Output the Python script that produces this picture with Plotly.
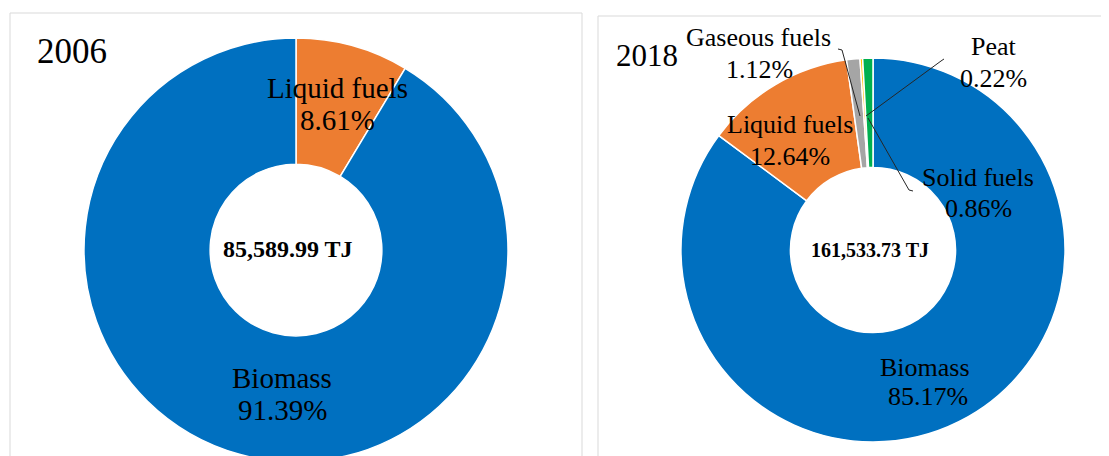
import plotly.graph_objects as go

# values
labels_2006 = ["Liquid fuels", "Biomass"]
shares_2006 = [8.61, 91.39]
total_2006 = "85,589.99 TJ"

labels_2018 = ["Biomass", "Liquid fuels", "Gaseous fuels", "Peat", "Solid fuels"]
shares_2018 = [85.17, 12.64, 1.12, 0.22, 0.86]
total_2018 = "161,533.73 TJ"

COLORS = {
    "Biomass": "#0070C0",
    "Liquid fuels": "#ED7D31",
    "Gaseous fuels": "#A5A5A5",
    "Peat": "#FFC000",
    "Solid fuels": "#00B050",
}

W, H = 1109, 456
OFF = 8  # the page body adds an 8px margin around the figure
FONT = "Liberation Serif, Times New Roman, serif"


def px(x, y):
    """screen pixel position -> paper fraction"""
    return (x - OFF) / W, 1 - (y - OFF) / H


def dom(cx, cy, r):
    x0, y1 = px(cx - r, cy - r)
    x1, y0 = px(cx + r, cy + r)
    return dict(x=[max(x0, 0), min(x1, 1)], y=[max(y0, 0), min(y1, 1)])


def donut(labels, values, domain, hole):
    return go.Pie(
        labels=labels, values=values, sort=False, direction="clockwise",
        rotation=0, hole=hole, domain=domain, textinfo="none",
        hoverinfo="label+percent", showlegend=False,
        marker=dict(colors=[COLORS[l] for l in labels],
                    line=dict(color="white", width=1.5)),
    )


def text(x, y, s, size, anchor="center", bold=False):
    ax, ay = px(x, y)
    return dict(
        x=ax, y=ay, xref="paper", yref="paper", showarrow=False,
        text=f"<b>{s}</b>" if bold else s, xanchor=anchor, yanchor="middle",
        font=dict(family=FONT, size=size, color="black"),
    )


def path(points):
    pts = [px(x, y) for x, y in points]
    d = "M " + " L ".join(f"{a:.5f},{b:.5f}" for a, b in pts)
    return dict(type="path", xref="paper", yref="paper", path=d,
                line=dict(color="#262626", width=1))


fig = go.Figure()
fig.add_trace(donut(labels_2006, shares_2006, dom(296, 250, 212), 0.405))
fig.add_trace(donut(labels_2018, shares_2018, dom(873, 250, 192), 0.43))

p06 = dict(zip(labels_2006, shares_2006))
p18 = dict(zip(labels_2018, shares_2018))

annotations = [
    text(35, 52, "2006", 35, anchor="left"),
    text(337, 88, "Liquid fuels", 29),
    text(337, 120, f"{p06['Liquid fuels']:.2f}%", 29),
    text(282, 378, "Biomass", 29),
    text(282, 410, f"{p06['Biomass']:.2f}%", 29),
    text(288, 249, total_2006, 24, bold=True),

    text(614, 55, "2018", 31, anchor="left"),
    text(758, 37, "Gaseous fuels", 26),
    text(759, 69, f"{p18['Gaseous fuels']:.2f}%", 26),
    text(994, 46, "Peat", 26),
    text(993, 78, f"{p18['Peat']:.2f}%", 26),
    text(790, 125, "Liquid fuels", 26),
    text(790, 156, f"{p18['Liquid fuels']:.2f}%", 26),
    text(978, 177, "Solid fuels", 26),
    text(978, 208, f"{p18['Solid fuels']:.2f}%", 26),
    text(925, 367, "Biomass", 26),
    text(928, 396, f"{p18['Biomass']:.2f}%", 26),
    text(870, 250, total_2018, 20, bold=True),
]

f10, _ = px(10, 0)
f582, _ = px(582, 0)
f598, _ = px(598, 0)
f1104, _ = px(1104, 0)
_, t13 = px(0, 13)
_, t16 = px(0, 16)

shapes = [
    # panel frames (cut off at the bottom)
    dict(type="rect", xref="paper", yref="paper",
         x0=f10, x1=f582, y0=-0.2, y1=t13,
         line=dict(color="#D9D9D9", width=1), layer="below"),
    dict(type="rect", xref="paper", yref="paper",
         x0=f598, x1=f1104, y0=-0.2, y1=t16,
         line=dict(color="#D9D9D9", width=1), layer="below"),
    # leader lines
    path([(838, 49), (842, 50), (860, 116)]),
    path([(944, 59), (941, 61), (866, 116)]),
    path([(868, 118), (909, 190), (913, 191)]),
]

fig.update_layout(
    width=W, height=H, autosize=False,
    margin=dict(l=0, r=0, t=0, b=0),
    paper_bgcolor="white", plot_bgcolor="white",
    annotations=annotations, shapes=shapes,
)

fig.write_html("out.html")
